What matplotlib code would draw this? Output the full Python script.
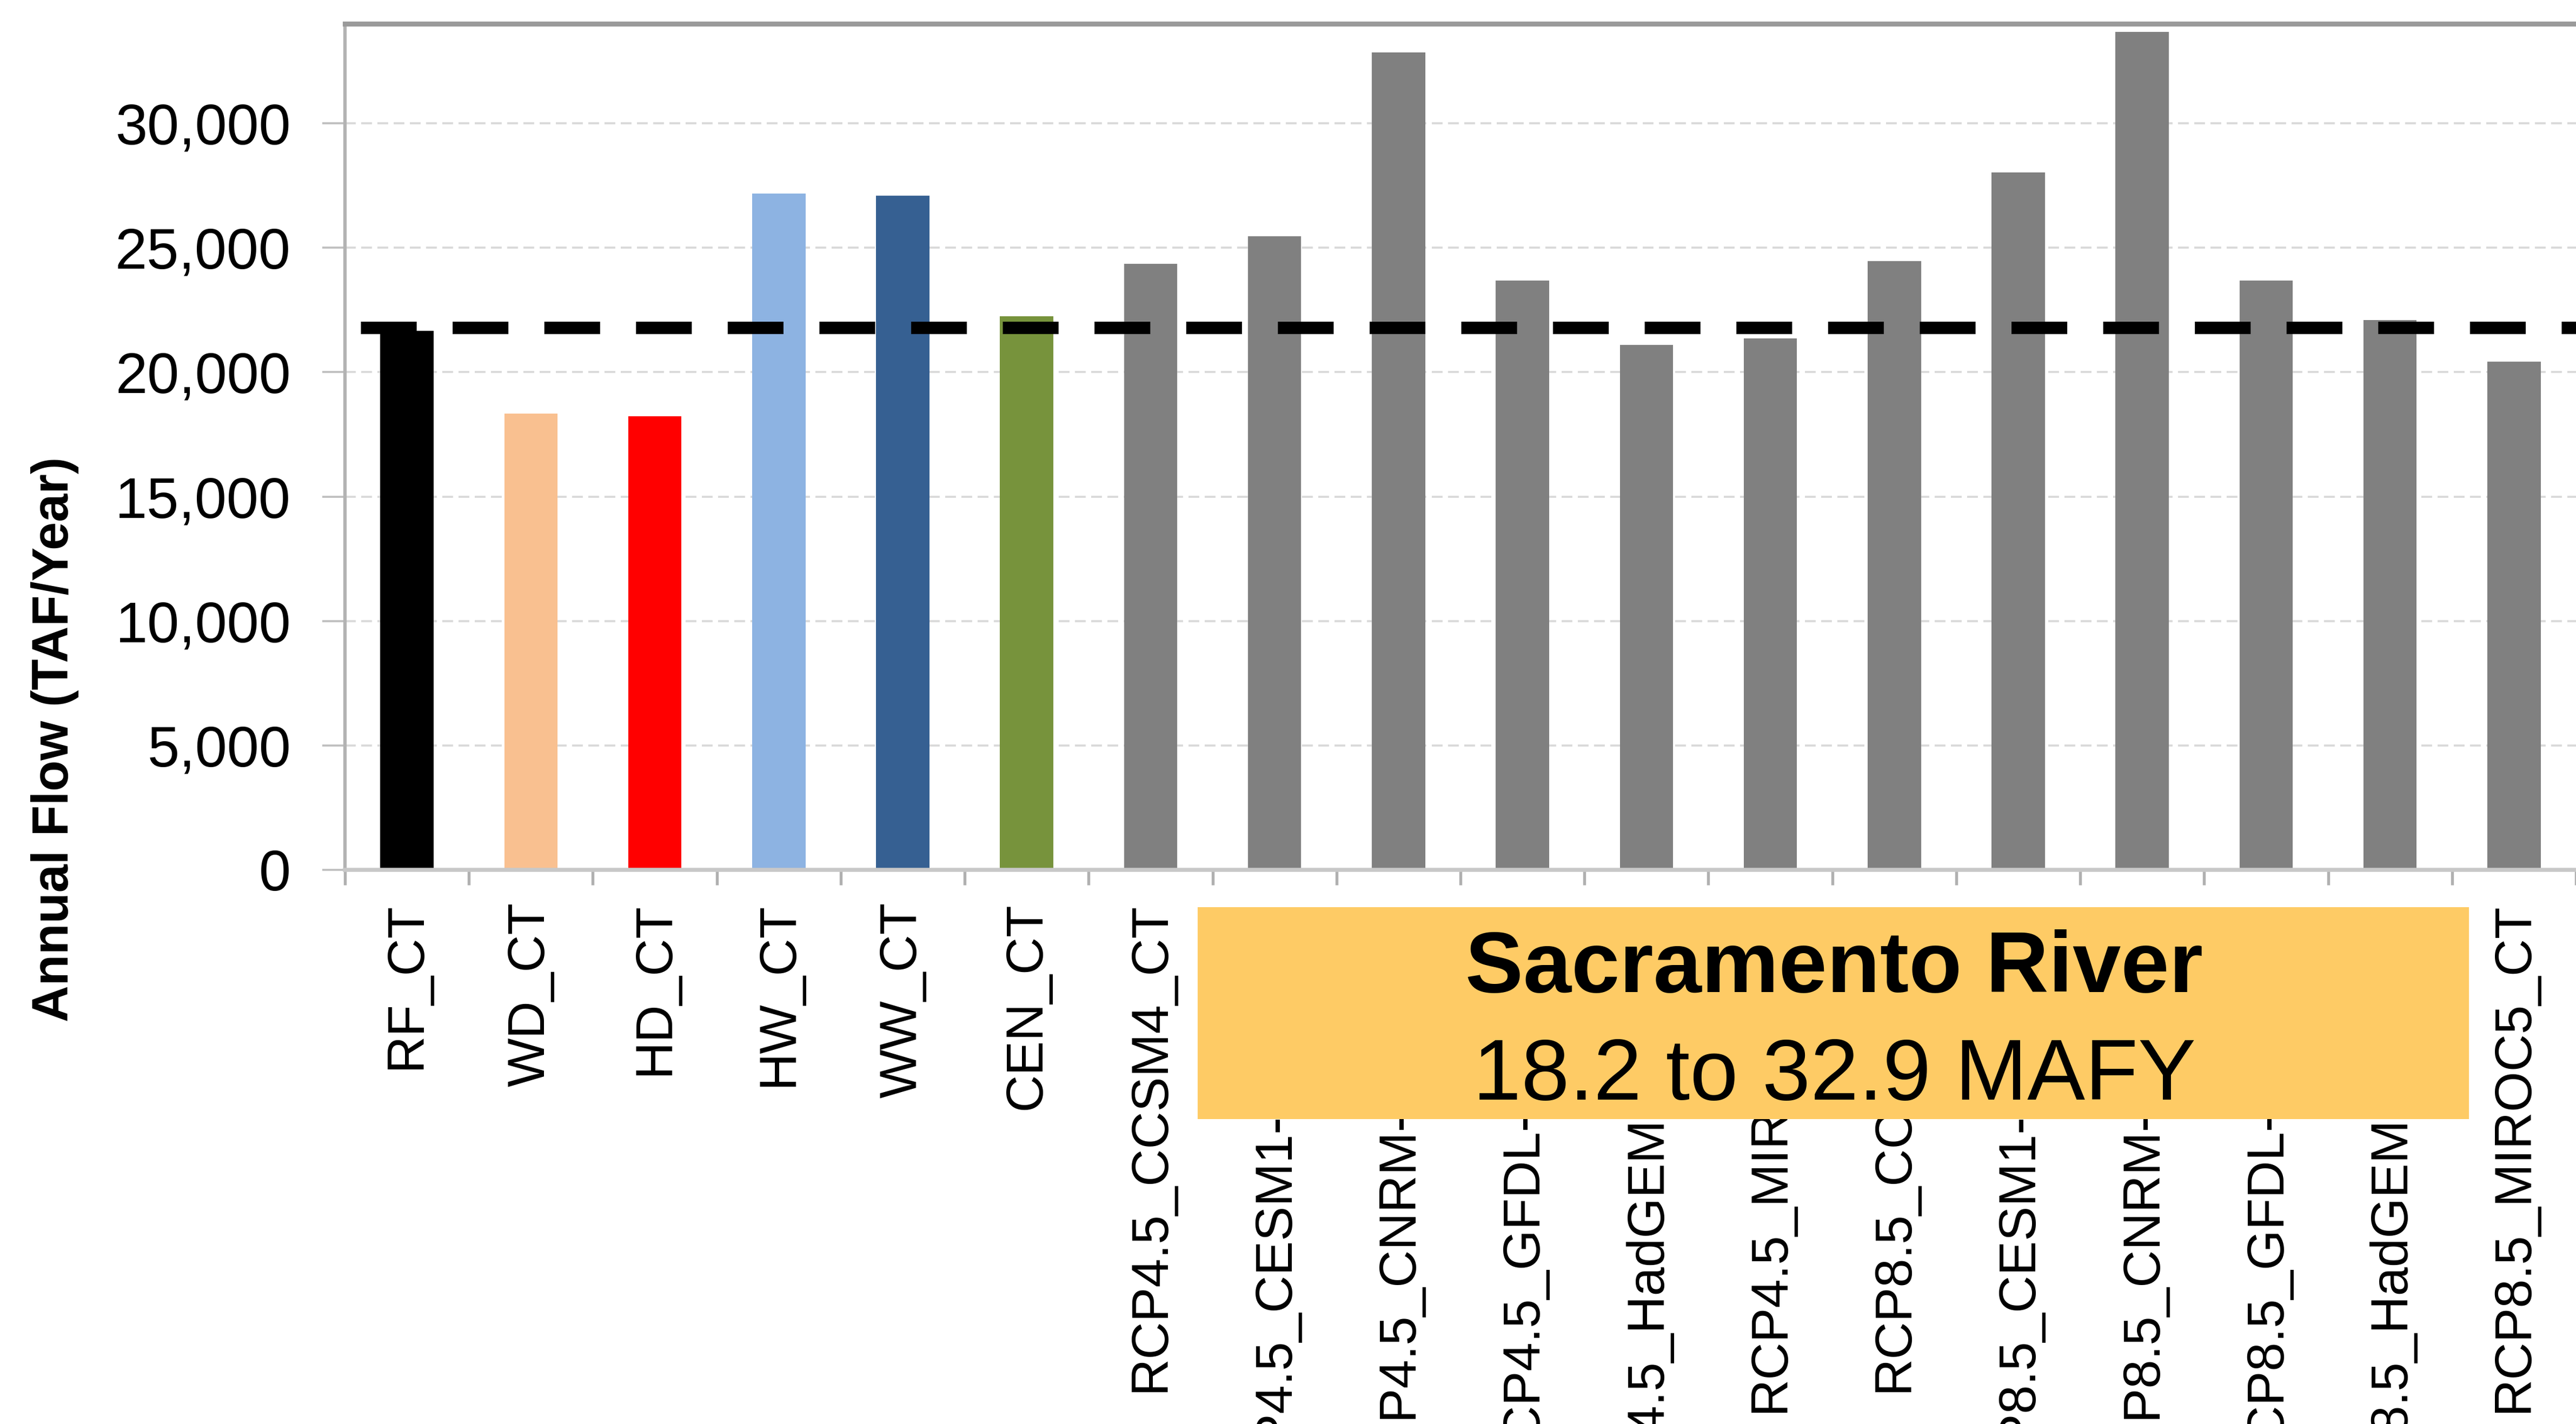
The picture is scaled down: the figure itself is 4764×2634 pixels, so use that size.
import matplotlib
matplotlib.use("Agg")
import matplotlib.pyplot as plt
from matplotlib.patches import Rectangle

plt.rcParams['font.family'] = ['Liberation Sans', 'DejaVu Sans']

# data
scenarios = ["RF_CT", "WD_CT", "HD_CT", "HW_CT", "WW_CT", "CEN_CT",
             "RCP4.5_CCSM4_CT", "RCP4.5_CESM1-BGC_CT", "RCP4.5_CNRM-CM5_CT",
             "RCP4.5_GFDL-CM3_CT", "RCP4.5_HadGEM2-ES_CT", "RCP4.5_MIROC5_CT",
             "RCP8.5_CCSM4_CT", "RCP8.5_CESM1-BGC_CT", "RCP8.5_CNRM-CM5_CT",
             "RCP8.5_GFDL-CM3_CT", "RCP8.5_HadGEM2-ES_CT", "RCP8.5_MIROC5_CT"]
annual_flow = [21650, 18330, 18220, 27170, 27100, 22250,
               24350, 25470, 32850, 23670, 21100, 21360,
               24460, 28020, 33680, 23670, 22090, 20420]
bar_colors = ["#000000", "#F9C090", "#FF0000", "#8DB3E2", "#366092", "#77933C"] + ["#808080"] * 12
ref_flow = 21800
yticks = [0, 5000, 10000, 15000, 20000, 25000, 30000]
ytick_labels = ["0", "5,000", "10,000", "15,000", "20,000", "25,000", "30,000"]
box_title = "Sacramento River"
box_range = "18.2 to 32.9 MAFY"

W, H = 4764, 2634
fig = plt.figure(figsize=(W / 300, H / 300), dpi=300)
ax = fig.add_axes([638 / W, 1 - 1609 / H, (W - 638) / W, (1609 - 44) / H])

x = list(range(len(scenarios)))
ax.bar(x, annual_flow, width=0.43, color=bar_colors, edgecolor="none", zorder=2)

# dashed reference line
ax.axhline(ref_flow, xmin=0.007, xmax=1, color="black", lw=5.5,
           linestyle=(0, (4.5, 2.9)), zorder=4)

ax.set_xlim(-0.5, len(scenarios) - 0.5)
ax.set_ylim(0, 34000)

ax.set_yticks(yticks)
ax.set_yticklabels(ytick_labels, fontsize=25.5)
ax.yaxis.grid(True, color="#d9d9d9", lw=0.9, linestyle=(0, (5.3, 2.7)), zorder=0)
ax.tick_params(axis="y", length=10, width=0.9, color="#bfbfbf", pad=14)

ax.set_xticks(x)
ax.set_xticklabels(scenarios, rotation=90, fontsize=23)
ax.set_xticks([i - 0.5 for i in range(len(scenarios) + 1)], minor=True)
ax.tick_params(axis="x", which="major", length=0, pad=14.4)
ax.tick_params(axis="x", which="minor", length=6.7, width=1.3, color="#b0b0b0")

ax.spines["left"].set_color("#b3b3b3")
ax.spines["left"].set_linewidth(1.5)
ax.spines["top"].set_color("#9a9a9a")
ax.spines["top"].set_linewidth(2.2)
ax.spines["bottom"].set_color("#c8c8c8")
ax.spines["bottom"].set_linewidth(1.8)
ax.spines["right"].set_visible(False)

fig.text(102 / W, 1 - 1367 / H, "Annual Flow (TAF/Year)", rotation=90,
         ha="center", va="center", fontsize=22.5, fontweight="bold")

# yellow label box over the x labels
fig.add_artist(Rectangle((2215 / W, 1 - 2070 / H), (4566 - 2215) / W, (2070 - 1678) / H,
                         transform=fig.transFigure, facecolor="#FECB65",
                         edgecolor="none", zorder=5))
fig.text(3392 / W, 1 - 1835 / H, box_title, ha="center", va="baseline",
         fontsize=38.5, fontweight="bold", zorder=6)
fig.text(3392 / W, 1 - 2034 / H, box_range, ha="center", va="baseline",
         fontsize=38.5, zorder=6)

fig.savefig("out.png", dpi=300)
